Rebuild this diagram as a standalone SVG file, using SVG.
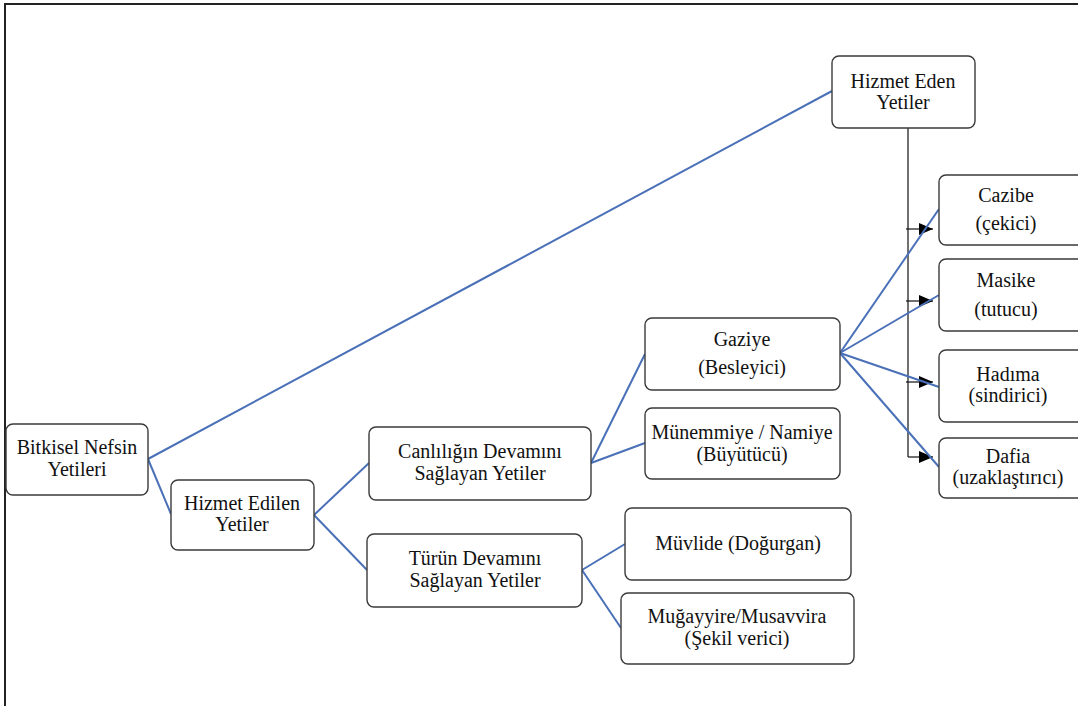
<svg xmlns="http://www.w3.org/2000/svg" width="1078" height="706" viewBox="0 0 1078 706">
<style>
.n{fill:#fff;stroke:#3a3a3a;stroke-width:1.4}
.t{font-size:20px;fill:#111;text-anchor:middle}
.b{stroke:#4a70b8;stroke-width:2;fill:none}
.k{stroke:#111;stroke-width:1.2;fill:none}
</style>
<defs>
<marker id="ah" markerWidth="14" markerHeight="12" refX="14" refY="6" orient="auto" markerUnits="userSpaceOnUse">
<path d="M0,0 L14,6 L0,12 Z" fill="#000"/>
</marker>
</defs>
<rect x="0" y="0" width="1078" height="706" fill="#fff"/>
<rect x="5" y="4" width="1090" height="720" fill="none" stroke="#222" stroke-width="2"/>
<g id="arrows">
<path class="k" d="M908,128 V457"/>
<path class="k" d="M906,229 H933" marker-end="url(#ah)"/>
<path class="k" d="M906,301 H933" marker-end="url(#ah)"/>
<path class="k" d="M906,382 H933" marker-end="url(#ah)"/>
<path class="k" d="M908,457 H933" marker-end="url(#ah)"/>
</g>
<g id="connectors">
<path class="b" d="M148,459 L832,91"/>
<path class="b" d="M148,459 L171,514"/>
<path class="b" d="M314,515 L369,463"/>
<path class="b" d="M314,515 L367,570"/>
<path class="b" d="M591,463 L645,354"/>
<path class="b" d="M591,463 L645,443"/>
<path class="b" d="M582,570 L625,544"/>
<path class="b" d="M582,570 L621,628"/>
<path class="b" d="M840,353 L939,209"/>
<path class="b" d="M840,353 L939,295"/>
<path class="b" d="M840,353 L939,387"/>
<path class="b" d="M840,353 L939,467"/>
</g>
<g id="nodes" font-family="Liberation Serif, Times New Roman, serif">
<g id="bitkisel"><rect class="n" x="6" y="424" width="142" height="71" rx="7"/><text class="t" x="77" y="454">Bitkisel Nefsin</text><text class="t" x="77" y="476">Yetileri</text></g>
<g id="hizmet-edilen"><rect class="n" x="171" y="480" width="143" height="70" rx="7"/><text class="t" x="242" y="510">Hizmet Edilen</text><text class="t" x="242" y="531">Yetiler</text></g>
<g id="hizmet-eden"><rect class="n" x="832" y="56" width="143" height="72" rx="7"/><text class="t" x="903" y="88">Hizmet Eden</text><text class="t" x="903" y="109">Yetiler</text></g>
<g id="canlilik"><rect class="n" x="369" y="427" width="222" height="73" rx="7"/><text class="t" x="480" y="458">Canlılığın Devamını</text><text class="t" x="480" y="480">Sağlayan Yetiler</text></g>
<g id="turun"><rect class="n" x="367" y="534" width="215" height="73" rx="7"/><text class="t" x="475" y="565">Türün Devamını</text><text class="t" x="475" y="587">Sağlayan Yetiler</text></g>
<g id="gaziye"><rect class="n" x="645" y="318" width="195" height="72" rx="7"/><text class="t" x="742" y="346">Gaziye</text><text class="t" x="742" y="374">(Besleyici)</text></g>
<g id="munemmiye"><rect class="n" x="645" y="408" width="195" height="71" rx="7"/><text class="t" x="742" y="439">Münemmiye / Namiye</text><text class="t" x="742" y="461">(Büyütücü)</text></g>
<g id="muvlide"><rect class="n" x="625" y="508" width="226" height="72" rx="7"/><text class="t" x="738" y="550">Müvlide (Doğurgan)</text></g>
<g id="mugayyire"><rect class="n" x="621" y="593" width="233" height="71" rx="7"/><text class="t" x="737" y="623">Muğayyire/Musavvira</text><text class="t" x="737" y="645">(Şekil verici)</text></g>
<g id="cazibe"><rect class="n" x="939" y="175" width="150" height="70" rx="7"/><text class="t" x="1006" y="202">Cazibe</text><text class="t" x="1006" y="230">(çekici)</text></g>
<g id="masike"><rect class="n" x="939" y="259" width="150" height="72" rx="7"/><text class="t" x="1006" y="287">Masike</text><text class="t" x="1006" y="316">(tutucu)</text></g>
<g id="hadima"><rect class="n" x="939" y="350" width="150" height="72" rx="7"/><text class="t" x="1008" y="381">Hadıma</text><text class="t" x="1008" y="402">(sindirici)</text></g>
<g id="dafia"><rect class="n" x="939" y="438" width="150" height="60" rx="7"/><text class="t" x="1008" y="463">Dafia</text><text class="t" x="1008" y="484">(uzaklaştırıcı)</text></g>
</g>
</svg>
